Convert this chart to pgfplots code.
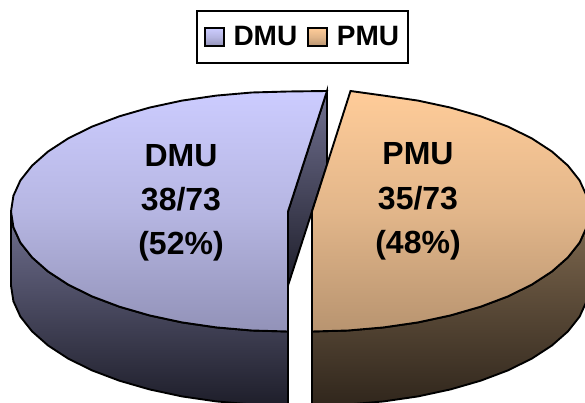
\documentclass[border=0pt]{standalone}
\usepackage{pgfplots}
\pgfplotsset{compat=1.18}
\usepackage{fontspec}
\setmainfont{Liberation Sans}
\definecolor{lt}{HTML}{CCCCFF}\definecolor{lm}{HTML}{B6B6E2}\definecolor{lb}{HTML}{9292B8}
\definecolor{rt}{HTML}{FFCC99}\definecolor{rm}{HTML}{E2B68A}\definecolor{rb}{HTML}{B89470}
\definecolor{lst}{HTML}{707090}\definecolor{lsb}{HTML}{1E1E2A}
\definecolor{rst}{HTML}{806A50}\definecolor{rsb}{HTML}{30261C}
\begin{document}
\begin{tikzpicture}
\useasboundingbox (0,0) rectangle (585pt,403pt);
\begin{axis}[
  at={(0,0)}, anchor=south west,
  scale only axis, width=585pt, height=403pt,
  xmin=0, xmax=585, ymin=0, ymax=403, y dir=reverse,
  hide axis, clip=true,
  legend columns=2,
  legend style={at={(axis cs:302.5,37)}, anchor=center, draw=black, line width=2pt,
    font=\fontsize{28}{30}\selectfont\bfseries, inner xsep=7pt, inner ysep=13.5pt,
    /tikz/every odd column/.append style={column sep=7pt},
    /tikz/every even column/.append style={column sep=8pt}},
  legend image code/.code={\draw[#1,line width=1.6pt] (0pt,-9pt) rectangle (19pt,9pt);},
]
% inner wall of the DMU slice
\addplot[forget plot, draw=black, line width=1.9pt, top color=lst, bottom color=lsb]
 coordinates {(327,91)(288,211.5)(288,285.5)(327,165)} --cycle;
% DMU side wall
\addplot[forget plot, draw=black, line width=1.9pt, top color=lst, bottom color=lsb]
 coordinates {(11,211.5)(13.4,227.2)(20.4,242.6)(32.1,257.4)(48.1,271.5)(68.2,284.6)(92.1,296.4)(119.4,306.7)(149.5,315.4)(182,322.4)(216.3,327.4)(251.9,330.5)(288,331.5)
 (288,405.5)(251.9,404.5)(216.3,401.4)(182,396.4)(149.5,389.4)(119.4,380.7)(92.1,370.4)(68.2,358.6)(48.1,345.5)(32.1,331.4)(20.4,316.6)(13.4,301.2)(11,285.5)} --cycle;
% DMU top face
\addplot[draw=black, line width=1.9pt, top color=lt, bottom color=lb, middle color=lm]
 coordinates {(288,211.5)(327,91)(288,91.5)(251.9,92.5)(216.3,95.6)(182,100.6)(149.5,107.6)(119.4,116.3)(92.1,126.6)(68.2,138.4)(48.1,151.5)(32.1,165.6)(20.4,180.4)(13.4,195.8)(11,211.5)(13.4,227.2)(20.4,242.6)(32.1,257.4)(48.1,271.5)(68.2,284.6)(92.1,296.4)(119.4,306.7)(149.5,315.4)(182,322.4)(216.3,327.4)(251.9,330.5)(288,331.5)} --cycle;
\addlegendentry{DMU}
% PMU side wall
\addplot[forget plot, draw=black, line width=1.9pt, top color=rst, bottom color=rsb]
 coordinates {(589,211.5)(586.6,227.2)(579.6,242.6)(567.9,257.4)(551.9,271.5)(531.8,284.6)(507.9,296.4)(480.6,306.7)(450.5,315.4)(418,322.4)(383.7,327.4)(348.1,330.5)(312,331.5)
 (312,405.5)(348.1,404.5)(383.7,401.4)(418,396.4)(450.5,389.4)(480.6,380.7)(507.9,370.4)(531.8,358.6)(551.9,345.5)(567.9,331.4)(579.6,316.6)(586.6,301.2)(589,285.5)} --cycle;
% PMU top face
\addplot[draw=black, line width=1.9pt, top color=rt, bottom color=rb, middle color=rm]
 coordinates {(312,211.5)(350.5,91)(383.7,95.6)(418,100.6)(450.5,107.6)(480.6,116.3)(507.9,126.6)(531.8,138.4)(551.9,151.5)(567.9,165.6)(579.6,180.4)(586.6,195.8)(589,211.5)(586.6,227.2)(579.6,242.6)(567.9,257.4)(551.9,271.5)(531.8,284.6)(507.9,296.4)(480.6,306.7)(450.5,315.4)(418,322.4)(383.7,327.4)(348.1,330.5)(312,331.5)} --cycle;
\addlegendentry{PMU}
\tikzset{lab/.style={font=\fontsize{32}{32}\selectfont\bfseries, anchor=base, inner sep=0pt}}
\node[lab] at (axis cs:181,167) {DMU};
\node[lab] at (axis cs:181,210) {38/73};
\node[lab] at (axis cs:181,254) {(52\%)};
\node[lab] at (axis cs:418,165) {PMU};
\node[lab] at (axis cs:418,209) {35/73};
\node[lab] at (axis cs:418,253) {(48\%)};
\end{axis}
\end{tikzpicture}
\end{document}
